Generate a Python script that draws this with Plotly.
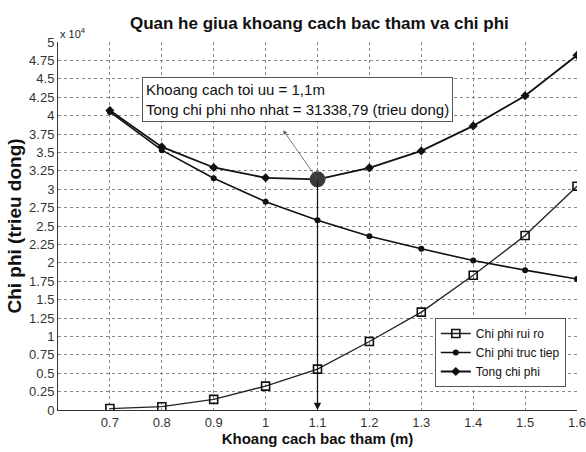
import plotly.graph_objects as go

# Step spacing (m)
khoang_cach = [0.7, 0.8, 0.9, 1.0, 1.1, 1.2, 1.3, 1.4, 1.5, 1.6]
# Costs in trieu dong
chi_phi_rui_ro = [200, 450, 1450, 3250, 5550, 9300, 13300, 18300, 23700, 30400]
chi_phi_truc_tiep = [40500, 35300, 31500, 28300, 25788.79, 23600, 21900, 20300, 19000, 17800]
tong_chi_phi = [40700, 35750, 32950, 31550, 31338.79, 32900, 35200, 38600, 42700, 48200]

x_toi_uu = 1.1
tong_min = 31338.79

y_tickvals = [i * 2500 for i in range(21)]
y_ticktext = ["0", "0.25", "0.5", "0.75", "1", "1.25", "1.5", "1.75", "2", "2.25", "2.5",
              "2.75", "3", "3.25", "3.5", "3.75", "4", "4.25", "4.5", "4.75", "5"]
x_tickvals = [0.7, 0.8, 0.9, 1.0, 1.1, 1.2, 1.3, 1.4, 1.5, 1.6]
x_ticktext = ["0.7", "0.8", "0.9", "1", "1.1", "1.2", "1.3", "1.4", "1.5", "1.6"]

font_fam = "Liberation Sans, Arial, sans-serif"

fig = go.Figure()
fig.add_trace(go.Scatter(
    x=khoang_cach, y=chi_phi_rui_ro, name="Chi phi rui ro", mode="lines+markers",
    line=dict(color="#222", width=1.3),
    marker=dict(symbol="square-open", size=8, color="#111", line=dict(width=1.6))))
fig.add_trace(go.Scatter(
    x=khoang_cach, y=chi_phi_truc_tiep, name="Chi phi truc tiep", mode="lines+markers",
    line=dict(color="#111", width=1.6),
    marker=dict(symbol="circle", size=6, color="#111")))
fig.add_trace(go.Scatter(
    x=khoang_cach, y=tong_chi_phi, name="Tong chi phi", mode="lines+markers",
    line=dict(color="#111", width=1.8),
    marker=dict(symbol="diamond", size=7, color="#111")))
# Optimum point
fig.add_trace(go.Scatter(
    x=[x_toi_uu], y=[tong_min], mode="markers", showlegend=False,
    marker=dict(symbol="circle", size=16, color="#3a3a3a")))

# Vertical arrow from the optimum to the x axis
fig.add_annotation(x=x_toi_uu, y=0, ax=x_toi_uu, ay=tong_min, xref="x", yref="y",
                   axref="x", ayref="y", showarrow=True, arrowhead=2, arrowsize=1.2,
                   arrowwidth=1.2, arrowcolor="#111", text="")
# Thin pointer to the text box
fig.add_annotation(x=1.034, y=38000, ax=x_toi_uu, ay=tong_min, xref="x", yref="y",
                   axref="x", ayref="y", showarrow=True, arrowhead=2, arrowsize=1,
                   arrowwidth=0.8, arrowcolor="#555", text="")
fig.add_annotation(x=0.762, y=45250, xref="x", yref="y", xanchor="left", yanchor="top",
                   showarrow=False, align="left",
                   text="Khoang cach toi uu = 1,1m<br>Tong chi phi nho nhat = 31338,79 (trieu dong)",
                   font=dict(family=font_fam, size=15, color="#111"),
                   bordercolor="#555", borderwidth=1, borderpad=3, bgcolor="white")
# Axis multiplier
fig.add_annotation(x=0, y=1.0, xref="paper", yref="paper", xanchor="left", yanchor="bottom",
                   showarrow=False, text="x 10<sup>4</sup>",
                   font=dict(family=font_fam, size=11, color="#222"))

fig.update_layout(
    width=586, height=452,
    margin=dict(l=58, r=9, t=42, b=42),
    paper_bgcolor="white", plot_bgcolor="white",
    title=dict(text="<b>Quan he giua khoang cach bac tham va chi phi</b>",
               x=0.545, xanchor="center", y=0.948, yanchor="middle",
               font=dict(family=font_fam, size=17, color="#111")),
    legend=dict(x=0.726, y=0.25, xanchor="left", yanchor="top",
                bordercolor="#555", borderwidth=1, bgcolor="white",
                font=dict(family=font_fam, size=12, color="#111"),
                tracegroupgap=2),
    xaxis=dict(range=[0.6, 1.6], tickvals=x_tickvals, ticktext=x_ticktext,
               automargin=False, ticklabeloverflow="allow",
               showgrid=True, gridcolor="#888", griddash="dot", gridwidth=1,
               showline=True, linecolor="#333", linewidth=1, mirror=False,
               zeroline=False, ticks="", tickfont=dict(family=font_fam, size=13, color="#333"),
               title=dict(text="<b>Khoang cach bac tham (m)</b>", standoff=4,
                          font=dict(family=font_fam, size=15, color="#111"))),
    yaxis=dict(range=[0, 50000], tickvals=y_tickvals, ticktext=y_ticktext,
               automargin=False, ticklabeloverflow="allow",
               showgrid=True, gridcolor="#888", griddash="dot", gridwidth=1,
               showline=True, linecolor="#333", linewidth=1,
               zeroline=False, ticks="", tickfont=dict(family=font_fam, size=13, color="#333"),
               title=dict(text="<b>Chi phi (trieu dong)</b>", standoff=2,
                          font=dict(family=font_fam, size=19, color="#111"))),
)

fig.write_html("out.html")
